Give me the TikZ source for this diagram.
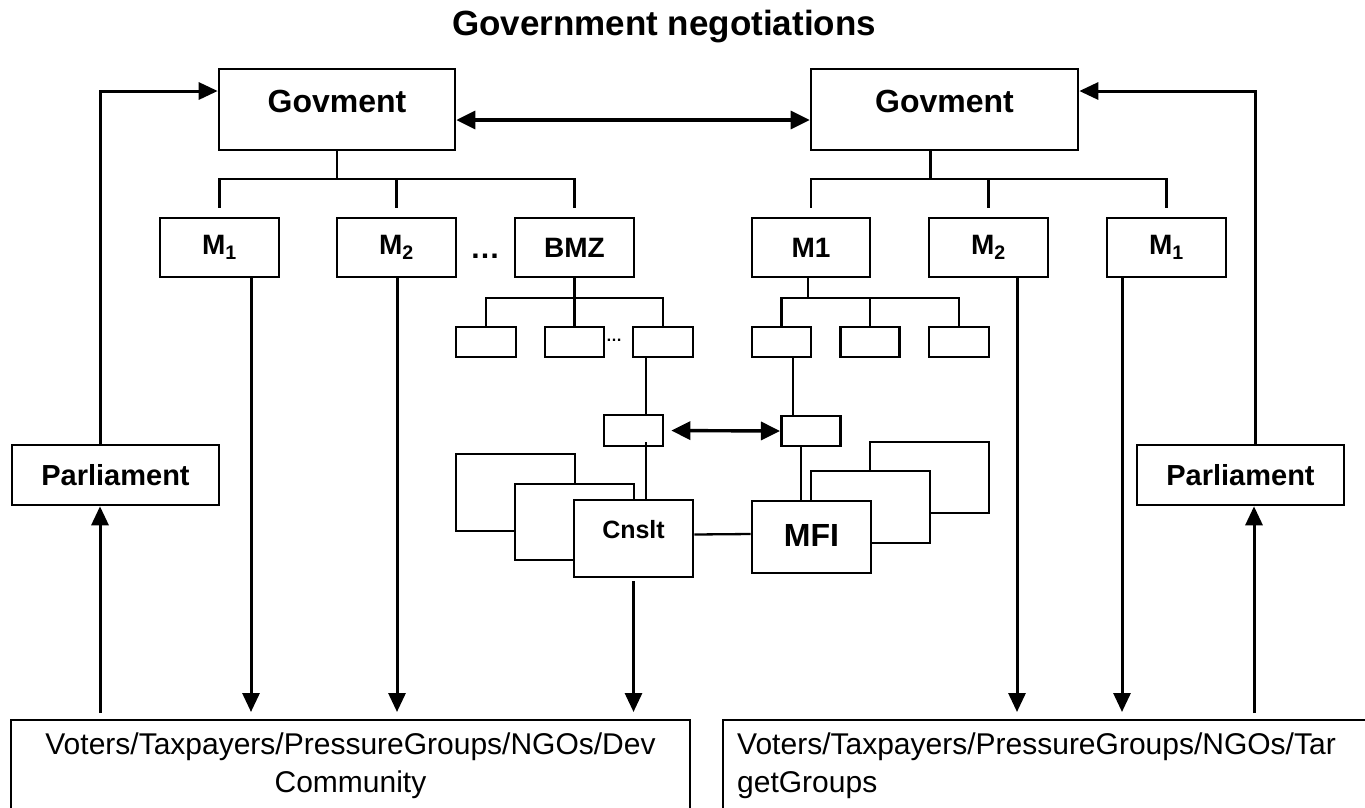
\documentclass[tikz,border=0pt]{standalone}
\usepackage{fontspec}
\setmainfont{Liberation Sans}
\usetikzlibrary{arrows.meta}
\begin{document}
\begin{tikzpicture}[x=1pt,y=-1pt,
  box/.style={draw, line width=2.6pt, fill=white, inner sep=0pt},
  ln/.style={line width=2.3pt},
  arr/.style={line width=3pt, -{Triangle[length=19pt,width=17pt]}},
  darr/.style={line width=3.4pt, {Triangle[length=19pt,width=18pt]}-{Triangle[length=19pt,width=18pt]}},
  govf/.style={font=\bfseries\fontsize{32}{38}\selectfont},
  mf/.style={font=\bfseries\fontsize{28}{34}\selectfont},
  pf/.style={font=\bfseries\fontsize{29}{34}\selectfont},
  bt/.style={font=\fontsize{30}{36}\selectfont, inner sep=0pt},
]
\useasboundingbox (0,0) rectangle (1365,807);
\clip (0,0) rectangle (1365,807);

% title
\node[font=\bfseries\fontsize{35}{40}\selectfont, anchor=base, inner sep=0pt] (title) at (664,35) {Government negotiations};

% governments
\node[box, minimum width=236pt, minimum height=81pt, label={[govf, yshift=8pt]center:Govment}] (gL) at (337,109.5) {};
\node[box, minimum width=267pt, minimum height=81pt, label={[govf, yshift=8pt]center:Govment}] (gR) at (944.5,109.5) {};

% ministries
\node[box, mf, minimum width=119pt, minimum height=59pt] (m1L) at (219.5,247.5) {M\textsubscript{1}};
\node[box, mf, minimum width=119pt, minimum height=59pt] (m2L) at (396.5,247.5) {M\textsubscript{2}};
\node[box, mf, minimum width=119pt, minimum height=59pt] (bmz) at (574.5,247.5) {BMZ};
\node[box, mf, minimum width=118pt, minimum height=59pt] (m1R) at (811,247.5) {M1};
\node[box, mf, minimum width=119pt, minimum height=59pt] (m2R) at (988.5,247.5) {M\textsubscript{2}};
\node[box, mf, minimum width=119pt, minimum height=59pt] (m3R) at (1166.5,247.5) {M\textsubscript{1}};
\node[font=\bfseries\fontsize{30}{34}\selectfont, anchor=base, inner sep=0pt] (dots1) at (485,258) {…};

% tree lines top
\coordinate (barY) at (0,179);
\draw[ln] (gL.south) -- (gL.south |- barY);
\draw[ln] ([yshift=9pt]m1L.north) -- (m1L.north |- barY) -- (bmz.north |- barY) -- ([yshift=9pt]bmz.north);
\draw[ln] ([yshift=9pt]m2L.north) -- (m2L.north |- barY);
\draw[ln] ([xshift=-14pt]gR.south) -- ([xshift=-14pt]gR.south |- barY);
\draw[ln] ([yshift=9pt]m1R.north) -- (m1R.north |- barY) -- (m3R.north |- barY) -- ([yshift=9pt]m3R.north);
\draw[ln] ([yshift=9pt]m2R.north) -- (m2R.north |- barY);

% sub units
\node[box, minimum width=60pt, minimum height=30pt] (s1) at (486,342) {};
\node[box, minimum width=59pt, minimum height=30pt] (s2) at (574.5,342) {};
\node[box, minimum width=60pt, minimum height=30pt] (s3) at (663,342) {};
\node[box, minimum width=59pt, minimum height=30pt] (t1) at (781.5,342) {};
\node[box, minimum width=59pt, minimum height=30pt] (t2) at (870,342) {};
\node[box, minimum width=60pt, minimum height=30pt] (t3) at (959,342) {};
\node[font=\bfseries\fontsize{16}{16}\selectfont, anchor=base, inner sep=0pt] (dots2) at (614,341) {…};

\coordinate (subY) at (0,298);
\draw[ln] (bmz.south) -- (bmz.south |- subY);
\draw[ln] (s1.north) -- (s1.north |- subY) -- (s3.north |- subY) -- (s3.north);
\draw[ln] (s2.north) -- (s2.north |- subY);
\draw[ln] ([xshift=-3pt]m1R.south) -- ([xshift=-3pt]m1R.south |- subY);
\draw[ln] (t1.north) -- (t1.north |- subY) -- (t3.north |- subY) -- (t3.north);
\draw[ln] (t2.north) -- (t2.north |- subY);

% project level
\node[box, minimum width=59pt, minimum height=31pt] (cL) at (633.5,430.5) {};
\node[box, minimum width=59.5pt, minimum height=30pt] (cR) at (811,431) {};
\draw[darr, shorten <=7pt] (cL.east) -- (cR.west);

% consultant stack
\node[box, minimum width=119pt, minimum height=77pt] (cb1) at (515.5,492.5) {};
\node[box, minimum width=119pt, minimum height=76pt] (cb2) at (574.5,522) {};
\node[box, minimum width=119pt, minimum height=77pt, label={[font=\bfseries\fontsize{25}{30}\selectfont, yshift=9pt]center:Cnslt}] (cn) at (633.5,538.5) {};

% MFI stack
\node[box, minimum width=119pt, minimum height=71pt] (mb3) at (929.5,477.5) {};
\node[box, minimum width=119pt, minimum height=72pt] (mb2) at (870.5,507) {};
\node[box, minimum width=119pt, minimum height=72pt, label={[font=\bfseries\fontsize{32}{38}\selectfont, yshift=2pt]center:MFI}] (mfi) at (811.5,537) {};

\coordinate (xc1) at (646,0);
\coordinate (xc2) at (793,0);
\coordinate (xc3) at (801,0);
\draw[ln] (s3.south -| xc1) -- (cL.north -| xc1);
\draw[ln] ([yshift=5pt]cL.south -| xc1) -- (cn.north -| xc1);
\draw[ln] (t1.south -| xc2) -- (cR.north -| xc2);
\draw[ln] (cR.south -| xc3) -- (mfi.north -| xc3);
\draw[ln] ([yshift=4pt]cn.east) -- ([yshift=3pt]mfi.west);

% parliaments
\node[box, pf, minimum width=207pt, minimum height=60pt] (pL) at (115.5,475) {Parliament};
\node[box, pf, minimum width=207pt, minimum height=60pt] (pR) at (1240.5,475) {Parliament};

% society boxes
\node[box, minimum width=679pt, minimum height=120pt] (bL) at (350.5,780) {};
\node[box, minimum width=657pt, minimum height=120pt] (bR) at (1051.5,780) {};
\node[bt, anchor=base] (bLt1) at (350.5,754) {Voters/Taxpayers/PressureGroups/NGOs/Dev};
\node[bt, anchor=base] (bLt2) at (350.5,792) {Community};
\node[bt, anchor=base west] (bRt1) at (737,754) {Voters/Taxpayers/PressureGroups/NGOs/Tar};
\node[bt, anchor=base west] (bRt2) at (737,792) {getGroups};

% feedback arrows
\coordinate (xPL) at (100,0);
\coordinate (xPR) at (1255,0);
\draw[arr] (pL.north -| xPL) |- ([yshift=18.5pt]gL.west);
\draw[arr] (pR.north -| xPR) |- ([yshift=18.5pt]gR.east);
\draw[darr] ([yshift=-10.5pt]gL.east) -- ([yshift=-10.5pt]gR.west);

\coordinate (upL) at (100,713);
\coordinate (upR) at (1254,713);
\draw[arr] (upL) -- (pL.south -| upL);
\draw[arr] (upR) -- (pR.south -| upR);

% down arrows
\coordinate (d1) at (251,712);
\coordinate (d2) at (397,712);
\coordinate (d3) at (633.5,712);
\coordinate (d4) at (1017,712);
\coordinate (d5) at (1122,712);
\draw[arr] (m1L.south -| d1) -- (d1);
\draw[arr] (m2L.south -| d2) -- (d2);
\draw[arr] ([yshift=-3pt]cn.south) -- (d3);
\draw[arr] (m2R.south -| d4) -- (d4);
\draw[arr] (m3R.south -| d5) -- (d5);
\end{tikzpicture}
\end{document}
